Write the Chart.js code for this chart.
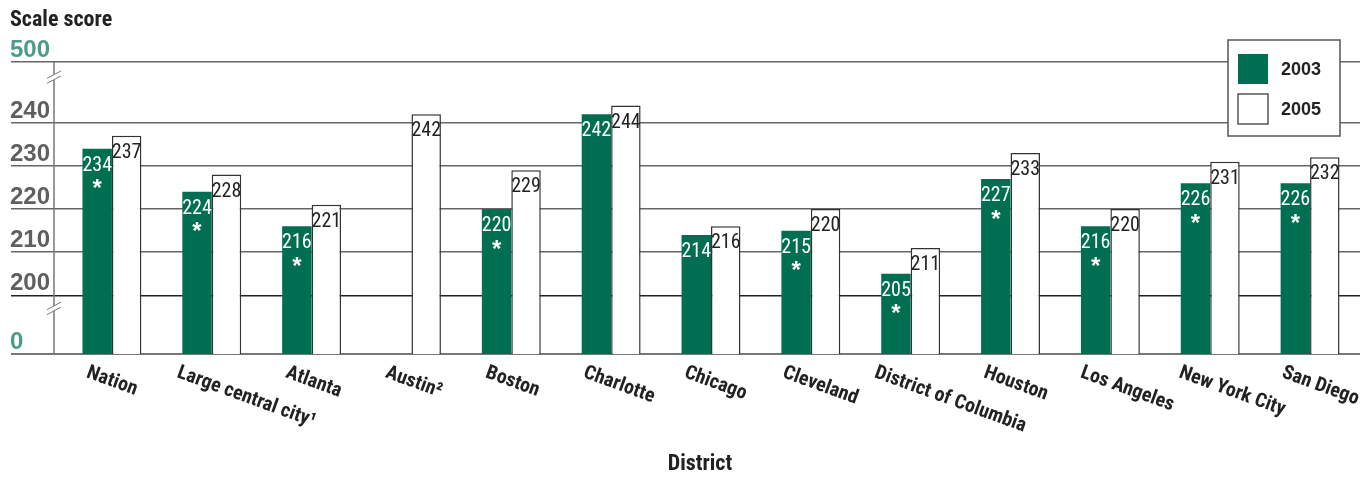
<!DOCTYPE html>
<html>
<head>
<meta charset="utf-8">
<script src="https://cdn.jsdelivr.net/npm/chart.js@4.4.1/dist/chart.umd.min.js"></script>
<style>
  html, body { margin: 0; padding: 0; background: #fff; }
</style>
</head>
<body>
<canvas id="chart" width="1366" height="478"></canvas>
<script>
const districts = ["Nation", "Large central city\u00b9", "Atlanta", "Austin\u00b2", "Boston", "Charlotte", "Chicago", "Cleveland", "District of Columbia", "Houston", "Los Angeles", "New York City", "San Diego"];
const scores2003 = [234, 224, 216, null, 220, 242, 214, 215, 205, 227, 216, 226, 226];
const scores2005 = [237, 228, 221, 242, 229, 244, 216, 220, 211, 233, 220, 231, 232];
// asterisk = significantly different from 2005
const signif2003 = [true, true, true, false, true, false, false, true, true, true, true, true, true];
const tickLabels = ["0", "200", "210", "220", "230", "240", "500"];

// broken axis: 0 and 500 sit just outside the 200-240 stretch
const AXIS_LOW = 186.4;
const AXIS_HIGH = 254.1;
const tickValues = tickLabels.map(t => t === "0" ? AXIS_LOW : t === "500" ? AXIS_HIGH : Number(t));

const GREEN = "#006f51";
const TEAL = "#4a9d87";
const NARROW = "'Liberation Sans Narrow', 'Roboto Condensed', 'DejaVu Sans Condensed', sans-serif";
const WIDE = "'Liberation Sans', Arial, sans-serif";

function gridColor(v) {
  if (v === 200) return "#222";
  if (v === AXIS_LOW) return "#777";
  return "#666";
}

const extras = {
  id: "extras",
  afterDatasetsDraw(chart) {
    const ctx = chart.ctx;
    const area = chart.chartArea;
    const yScale = chart.scales.y;
    const xScale = chart.scales.x;

    // y axis line, sitting a little left of the first bar
    const ax = area.left - 8;
    ctx.save();
    ctx.strokeStyle = "#777";
    ctx.lineWidth = 1.5;
    ctx.beginPath();
    ctx.moveTo(ax, area.top);
    ctx.lineTo(ax, area.bottom);
    ctx.stroke();

    // break marks
    [(yScale.getPixelForValue(AXIS_HIGH) + yScale.getPixelForValue(240)) / 2 - 15,
     (yScale.getPixelForValue(200) + yScale.getPixelForValue(AXIS_LOW)) / 2 - 16].forEach(cy => {
      ctx.fillStyle = "#fff";
      ctx.beginPath();
      ctx.moveTo(ax - 7, cy + 1);
      ctx.lineTo(ax + 7, cy - 6.5);
      ctx.lineTo(ax + 7, cy - 1.5);
      ctx.lineTo(ax - 7, cy + 6);
      ctx.closePath();
      ctx.fill();
      ctx.strokeStyle = "#777";
      ctx.lineWidth = 1;
      ctx.beginPath();
      ctx.moveTo(ax - 7, cy + 1); ctx.lineTo(ax + 7, cy - 6.5);
      ctx.moveTo(ax - 7, cy + 6); ctx.lineTo(ax + 7, cy - 1.5);
      ctx.stroke();
    });

    // value labels inside bars
    chart.data.datasets.forEach((ds, di) => {
      const meta = chart.getDatasetMeta(di);
      meta.data.forEach((bar, i) => {
        const v = ds.data[i];
        if (v == null) return;
        ctx.textAlign = "center";
        ctx.textBaseline = "top";
        ctx.fillStyle = di === 0 ? "#fff" : "#222";
        ctx.font = "20px " + NARROW;
        ctx.fillText(String(v), bar.x, bar.y + 7);
        if (di === 0 && signif2003[i]) {
          ctx.font = "bold 24px " + WIDE;
          ctx.fillText("*", bar.x, bar.y + 29);
        }
      });
    });

    // category labels, tilted down to the right
    ctx.fillStyle = "#222";
    ctx.font = "bold 20px " + NARROW;
    ctx.textAlign = "left";
    ctx.textBaseline = "top";
    districts.forEach((d, i) => {
      const cx = xScale.getPixelForValue(i);
      const w = ctx.measureText(d).width;
      ctx.save();
      ctx.translate(cx - 16 - 0.1 * w, area.bottom + 9);
      ctx.rotate(20 * Math.PI / 180);
      ctx.fillText(d, 0, 0);
      ctx.restore();
    });

    // titles
    ctx.textBaseline = "middle";
    ctx.font = "bold 22px " + NARROW;
    ctx.fillText("Scale score", 10, 20);
    ctx.textAlign = "center";
    ctx.font = "bold 22px " + NARROW;
    ctx.fillText("District", 700, 464);

    // legend box
    const lx = 1228, ly = 40;
    ctx.fillStyle = "#fff";
    ctx.fillRect(lx, ly, 112, 96);
    ctx.strokeStyle = "#555";
    ctx.lineWidth = 1.5;
    ctx.strokeRect(lx, ly, 112, 96);
    chart.data.datasets.forEach((ds, di) => {
      const sy = ly + 14 + di * 40;
      ctx.fillStyle = ds.backgroundColor;
      ctx.fillRect(lx + 10, sy, 30, 30);
      if (di === 1) {
        ctx.strokeStyle = "#555";
        ctx.lineWidth = 1.5;
        ctx.strokeRect(lx + 10, sy, 30, 30);
      }
      ctx.fillStyle = "#222";
      ctx.textAlign = "left";
      ctx.textBaseline = "middle";
      ctx.font = "bold 18px " + WIDE;
      ctx.fillText(ds.label, lx + 53, sy + 16);
    });
    ctx.restore();
  }
};

new Chart(document.getElementById("chart"), {
  type: "bar",
  data: {
    labels: districts,
    datasets: [
      { label: "2003", data: scores2003, backgroundColor: GREEN, borderWidth: 0 },
      { label: "2005", data: scores2005, backgroundColor: "#fff", borderColor: "#333", borderWidth: 1.5 }
    ]
  },
  options: {
    responsive: false,
    animation: false,
    layout: { padding: { left: 10, right: 6, top: 62, bottom: 124 } },
    categoryPercentage: 0.59,
    barPercentage: 1.0,
    plugins: { legend: { display: false }, tooltip: { enabled: false } },
    scales: {
      x: {
        grid: { display: false, drawTicks: false },
        border: { display: false },
        ticks: { display: false },
        afterFit: s => { s.height = 0; }
      },
      y: {
        min: AXIS_LOW,
        max: AXIS_HIGH,
        afterBuildTicks: s => { s.ticks = tickValues.map(v => ({ value: v })); },
        afterFit: s => { s.width = 52; },
        border: { display: false },
        grid: {
          color: c => gridColor(c.tick.value),
          tickColor: c => gridColor(c.tick.value),
          lineWidth: c => c.tick.value === AXIS_LOW ? 2 : 1.5,
          tickLength: 51
        },
        ticks: {
          autoSkip: false,
          crossAlign: "far",
          padding: 0,
          labelOffset: -11.5,
          font: { family: WIDE, size: 24, weight: "bold" },
          color: c => (c.tick.value === AXIS_LOW || c.tick.value === AXIS_HIGH) ? TEAL : "#5f5f5f",
          callback: (v, i) => tickLabels[i]
        }
      }
    }
  },
  plugins: [extras]
});
</script>
</body>
</html>
